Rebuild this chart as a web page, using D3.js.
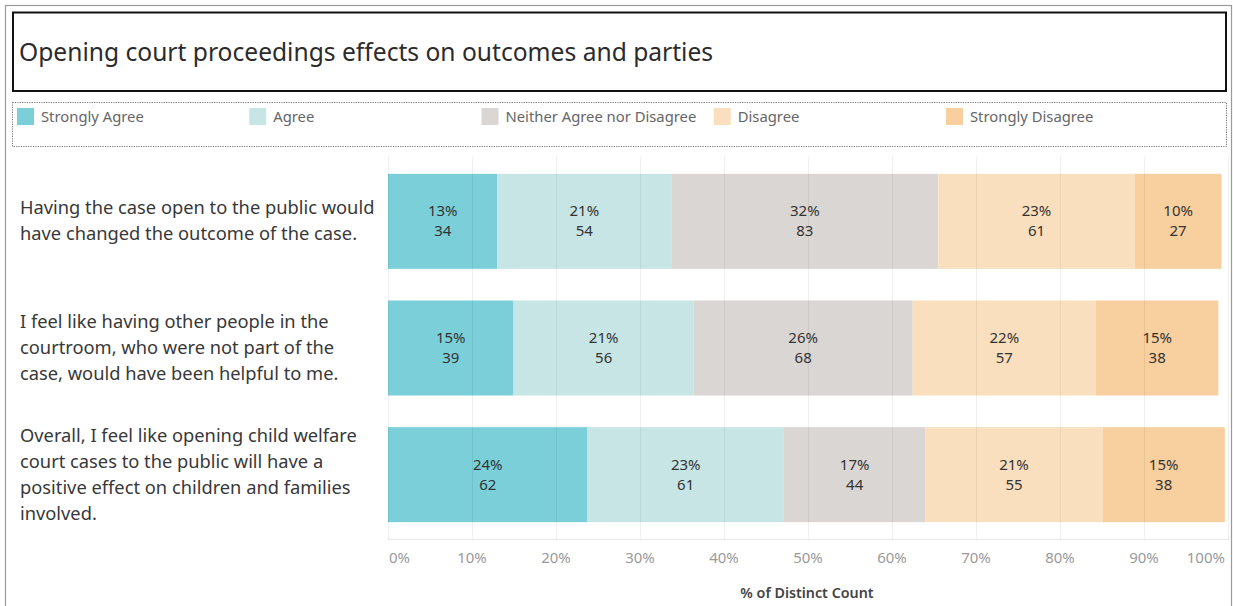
<!DOCTYPE html>
<html>
<head>
<meta charset="utf-8">
<script src="https://cdn.jsdelivr.net/npm/d3@7"></script>
<style>
  html, body { margin: 0; padding: 0; background: #fff; }
  svg { display: block; font-family: "Noto Sans", "Open Sans", sans-serif; }
</style>
</head>
<body>
<svg id="chart" width="1233" height="606"></svg>
<script>
// Survey statements (wrapped as they appear beside each bar)
const statements = [
  ["Having the case open to the public would", "have changed the outcome of the case."],
  ["I feel like having other people in the", "courtroom, who were not part of the", "case, would have been helpful to me."],
  ["Overall, I feel like opening child welfare", "court cases to the public will have a", "positive effect on children and families", "involved."]
];
const responses = ["Strongly Agree", "Agree", "Neither Agree nor Disagree", "Disagree", "Strongly Disagree"];
const responseColors = ["#7acfd9", "#c7e5e5", "#dad6d4", "#f9dfbe", "#f8cf9e"];

// Respondent counts per answer, one array per statement
const countsOpenOutcome = [34, 54, 83, 61, 27];
const countsOthersHelpful = [39, 56, 68, 57, 38];
const countsPositiveEffect = [62, 61, 44, 55, 38];
const allCounts = [countsOpenOutcome, countsOthersHelpful, countsPositiveEffect];

// Distinct respondents (denominator of the percentages)
const distinctRespondents = 261;

const tickValues = [0, 0.1, 0.2, 0.3, 0.4, 0.5, 0.6, 0.7, 0.8, 0.9, 1.0];

const svg = d3.select("#chart");

// Outer frame
svg.append("rect").attr("x", 5.5).attr("y", 5.5).attr("width", 1226).attr("height", 610)
  .attr("fill", "none").attr("stroke", "#9a9a9a").attr("stroke-width", 1.2);

// Title box
svg.append("rect").attr("x", 13).attr("y", 12.5).attr("width", 1213).attr("height", 78.5)
  .attr("fill", "none").attr("stroke", "#111").attr("stroke-width", 2);
svg.append("text").attr("x", 19).attr("y", 61)
  .attr("font-size", 24.6).attr("fill", "#2b2b2b")
  .text("Opening court proceedings effects on outcomes and parties");

// Legend box
svg.append("rect").attr("x", 12.5).attr("y", 102.5).attr("width", 1214).attr("height", 44)
  .attr("fill", "none").attr("stroke", "#777").attr("stroke-width", 1)
  .attr("stroke-dasharray", "1.2,1.2");

const legendX = d3.scaleLinear().domain([0, 1]).range([17, 249.25]);
const legend = svg.append("g").selectAll("g").data(responses).join("g")
  .attr("transform", (d, i) => `translate(${legendX(i)},108)`);
legend.append("rect").attr("width", 17).attr("height", 17)
  .attr("fill", (d, i) => responseColors[i]);
legend.append("text").attr("x", 24).attr("y", 14)
  .attr("font-size", 14.8).attr("fill", "#666").text(d => d);

// Scales
const x = d3.scaleLinear().domain([0, 1]).range([388, 1228]);
const y = d3.scaleBand().domain(d3.range(statements.length)).range([158, 538])
  .paddingInner(0.25).paddingOuter(0.125);

// Stacked segments
const rows = allCounts.map((counts, r) => {
  let acc = 0;
  return counts.map((c, i) => {
    const s = { row: r, idx: i, count: c, x0: acc / distinctRespondents };
    acc += c;
    s.x1 = acc / distinctRespondents;
    return s;
  });
});
const segments = rows.flat();

const plot = svg.append("g");
plot.selectAll("rect.seg").data(segments).join("rect")
  .attr("class", "seg")
  .attr("x", d => x(d.x0))
  .attr("y", d => y(d.row))
  .attr("width", d => x(d.x1) - x(d.x0))
  .attr("height", y.bandwidth())
  .attr("fill", d => responseColors[d.idx]);

// Gridlines, drawn over the bars
const grid = svg.append("g");
grid.selectAll("line").data(tickValues).join("line")
  .attr("x1", d => x(d) + 0.5).attr("x2", d => x(d) + 0.5)
  .attr("y1", 156).attr("y2", 540)
  .attr("stroke", "rgba(0,0,0,0.06)").attr("stroke-width", 1);
svg.append("line").attr("x1", 387).attr("x2", 1229).attr("y1", 539.5).attr("y2", 539.5)
  .attr("stroke", "rgba(0,0,0,0.08)");

// Segment labels: percentage and count
const labels = svg.append("g").selectAll("g").data(segments).join("g")
  .attr("transform", d => `translate(${(x(d.x0) + x(d.x1)) / 2},${y(d.row) + y.bandwidth() / 2})`);
labels.append("text").attr("text-anchor", "middle").attr("y", -5)
  .attr("font-size", 15).attr("fill", "#333")
  .text(d => d3.format(".0%")(d.count / distinctRespondents));
labels.append("text").attr("text-anchor", "middle").attr("y", 15)
  .attr("font-size", 15).attr("fill", "#333")
  .text(d => d.count);

// Statement labels
const rowLabels = svg.append("g").selectAll("text").data(statements).join("text")
  .attr("font-size", 18.3).attr("fill", "#383838");
rowLabels.each(function (lines, r) {
  const cy = y(r) + y.bandwidth() / 2;
  const lh = 26;
  d3.select(this).selectAll("tspan").data(lines).join("tspan")
    .attr("x", 20)
    .attr("y", (d, i) => cy + (i - (lines.length - 1) / 2) * lh + 6)
    .text(d => d);
});

// Axis tick labels
const axis = svg.append("g");
axis.selectAll("text").data(tickValues).join("text")
  .attr("x", d => d === 0 ? x(d) + 1 : d === 1 ? x(d) - 3 : x(d))
  .attr("y", 563)
  .attr("text-anchor", d => d === 0 ? "start" : d === 1 ? "end" : "middle")
  .attr("font-size", 15).attr("fill", "#9a9a9a")
  .text(d => d3.format(".0%")(d));

svg.append("text").attr("x", 807).attr("y", 598).attr("text-anchor", "middle")
  .attr("font-size", 14.3).attr("font-weight", 600).attr("fill", "#444")
  .text("% of Distinct Count");
</script>
</body>
</html>
